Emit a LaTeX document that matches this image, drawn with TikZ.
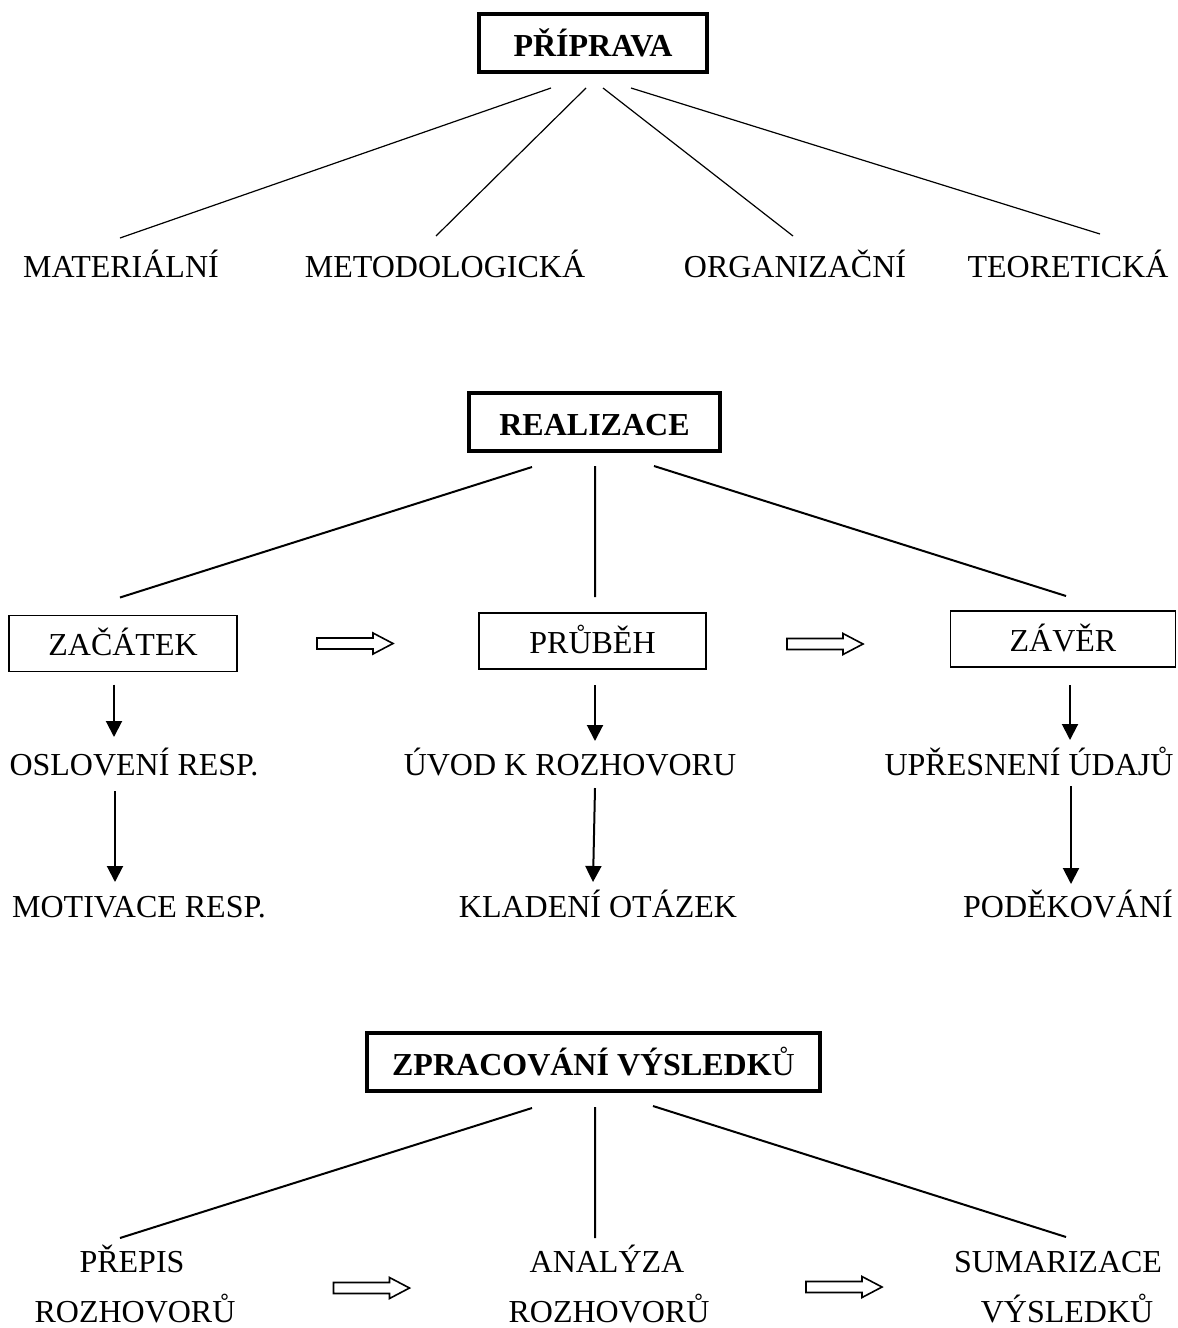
\documentclass[tikz,border=0pt]{standalone}
\usepackage{fontspec}
\setmainfont{Liberation Serif}
\usetikzlibrary{arrows.meta, calc}

\tikzset{
    headbox/.style={draw, line width=1.8pt, inner sep=0pt, outer sep=0pt, minimum height=29pt,
        text height=13pt, text depth=0pt, font=\fontsize{16}{19}\selectfont\bfseries},
    stagebox/.style={draw, line width=0.9pt, inner sep=0pt, outer sep=0pt, minimum height=28pt,
        text height=12pt, text depth=0pt, font=\fontsize{16}{19}\selectfont},
    word/.style={inner sep=0pt, outer sep=0pt, anchor=base, font=\fontsize{16}{19}\selectfont},
    fanthin/.style={line width=0.6pt},
    branch/.style={line width=1pt},
    downarrow/.style={line width=1pt, -{Triangle[width=8pt,length=8pt]}},
    openarrow/.pic={
        \draw[line width=0.8pt] (-38,-5.5) -- (18,-5.5) -- (18,-10.5) -- (38,0)
            -- (18,10.5) -- (18,5.5) -- (-38,5.5) -- cycle;
    }
}

\begin{document}
\begin{tikzpicture}[x=0.5pt, y=-0.5pt]
    \useasboundingbox (0,0) rectangle (1178,1328);

    \node[headbox, minimum width=114pt] (prip) at (593,43) {PŘÍPRAVA};
    \node[word] (mat) at (121,277) {MATERIÁLNÍ};
    \node[word] (met) at (445,277) {METODOLOGICKÁ};
    \node[word] (org) at (795,277) {ORGANIZAČNÍ};
    \node[word] (teo) at (1068,277) {TEORETICKÁ};

    \node[headbox, minimum width=125.5pt] (real) at (594.5,422) {REALIZACE};
    \node[stagebox, minimum width=114pt] (zac) at (123,643.5) {ZAČÁTEK};
    \node[stagebox, minimum width=113.5pt] (pru) at (592.5,641) {PRŮBĚH};
    \node[stagebox, minimum width=112.5pt] (zav) at (1063,639) {ZÁVĚR};
    \node[word] (osl) at (134,775) {OSLOVENÍ RESP.};
    \node[word] (uvod) at (570,775) {ÚVOD K ROZHOVORU};
    \node[word] (upr) at (1029,775) {UPŘESNENÍ ÚDAJŮ};
    \node[word] (mot) at (139,917) {MOTIVACE RESP.};
    \node[word] (klad) at (598,917) {KLADENÍ OTÁZEK};
    \node[word] (pod) at (1068,917) {PODĚKOVÁNÍ};

    \node[headbox, minimum width=226.5pt] (zprac) at (593.5,1062) {ZPRACOVÁNÍ VÝSLEDK\textmd{Ů}};
    \node[word] (prep) at (132,1272) {PŘEPIS};
    \node[word] (prep2) at (135,1322) {ROZHOVORŮ};
    \node[word] (anal) at (607,1272) {ANALÝZA};
    \node[word] (anal2) at (609,1322) {ROZHOVORŮ};
    \node[word] (sum) at (1058,1272) {SUMARIZACE};
    \node[word] (sum2) at (1067,1322) {VÝSLEDKŮ};

    \pic (oa1) at (355,643.5) {openarrow};
    \pic (oa2) at (825,644) {openarrow};
    \pic (oa3) at (371.5,1288) {openarrow};
    \pic (oa4) at (844,1287) {openarrow};

    \draw[fanthin]
        ($(prip.south)+(-42,16)$) -- ($(mat.base)+(-1,-39)$)
        ($(prip.south)+(-7,16)$) -- ($(met.base)+(-9,-41)$)
        ($(prip.south)+(10,16)$) -- ($(org.base)+(-2,-41)$)
        ($(prip.south)+(38,16)$) -- ($(teo.base)+(32,-43)$)
        ;

    \draw[branch]
        ($(real.south)+(-62.5,16)$) -- ($(zac.north)+(-3,-18)$)
        ($(real.south)+(0.5,15)$) -- ($(pru.north)+(2.5,-16)$)
        ($(real.south)+(59.5,15)$) -- ($(zav.north)+(3,-15)$)
        ;

    \draw[downarrow] ($(zac.south)+(-9,13)$) -- ($(osl.base)+(-20,-38)$);
    \draw[downarrow] ($(osl.base)+(-19,16)$) -- ($(mot.base)+(-24,-35)$);
    \draw[downarrow] ($(pru.south)+(2.5,16)$) -- ($(uvod.base)+(25,-34)$);
    \draw[downarrow] ($(uvod.base)+(25,13)$) -- ($(klad.base)+(-5,-35)$);
    \draw[downarrow] ($(zav.south)+(7,18)$) -- ($(upr.base)+(41,-35)$);
    \draw[downarrow] ($(upr.base)+(42,11)$) -- ($(pod.base)+(3,-33)$);

    \draw[branch]
        ($(zprac.south)+(-61.5,17)$) -- ($(prep.base)+(-12,-34)$)
        ($(zprac.south)+(1.5,16)$) -- ($(anal.base)+(-12,-34)$)
        ($(zprac.south)+(59.5,15)$) -- ($(sum.base)+(8,-35)$)
        ;
\end{tikzpicture}
\end{document}
